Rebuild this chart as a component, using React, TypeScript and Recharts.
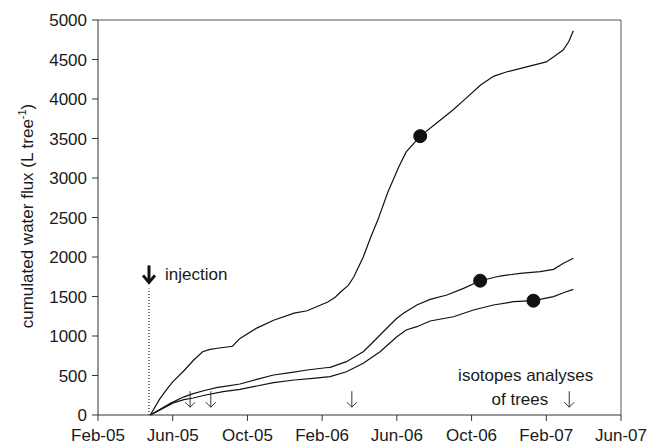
import React from 'react';
import { LineChart, Line, XAxis, YAxis, ReferenceLine, ReferenceDot } from 'recharts';

// x values are months counted from Feb-05
const tickMonths = [0, 4, 8, 12, 16, 20, 24, 28];
const tickLabels = ['Feb-05', 'Jun-05', 'Oct-05', 'Feb-06', 'Jun-06', 'Oct-06', 'Feb-07', 'Jun-07'];
const yTicks = [0, 500, 1000, 1500, 2000, 2500, 3000, 3500, 4000, 4500, 5000];

const topMonths = [2.8, 3.3, 3.7, 4.0, 4.6, 5.1, 5.6, 6.0, 6.4, 7.2, 7.6, 8.5, 9.4, 10.5, 11.2, 12.3, 12.7, 13.0, 13.4, 13.7, 14.2, 14.6, 15.0, 15.5, 16.1, 16.5, 17.25, 18.1, 19.0, 19.8, 20.5, 21.2, 21.9, 23.0, 24.0, 24.4, 24.9, 25.2, 25.45];
const topFlux = [0, 200, 330, 420, 560, 690, 800, 830, 845, 870, 970, 1100, 1200, 1290, 1320, 1430, 1490, 1560, 1640, 1750, 2000, 2250, 2480, 2810, 3140, 3330, 3530, 3690, 3860, 4030, 4180, 4290, 4345, 4410, 4470, 4535, 4620, 4725, 4865];

const midMonths = [2.8, 3.3, 3.9, 4.6, 5.1, 5.7, 6.4, 6.7, 7.6, 8.5, 9.4, 10.3, 11.2, 12.2, 12.43, 13.3, 13.7, 14.2, 14.65, 15.1, 15.55, 16.0, 16.35, 17.07, 17.78, 18.68, 19.57, 20.46, 21.53, 22.6, 23.67, 24.39, 24.92, 25.45];
const midFlux = [0, 70, 150, 230, 270, 310, 350, 360, 392, 451, 506, 536, 570, 598, 603, 675, 730, 800, 905, 1013, 1120, 1224, 1287, 1392, 1464, 1519, 1603, 1700, 1759, 1793, 1814, 1844, 1920, 1985];

const lowMonths = [2.8, 3.3, 4.0, 4.6, 5.1, 5.7, 6.7, 7.6, 8.5, 9.4, 10.5, 11.5, 12.43, 13.3, 14.2, 15.1, 16.0, 16.5, 17.07, 17.78, 19.03, 20.1, 21.17, 22.25, 23.31, 24.39, 24.92, 25.45];
const lowFlux = [0, 60, 150, 195, 215, 250, 295, 325, 367, 409, 443, 464, 485, 548, 654, 801, 991, 1076, 1118, 1190, 1244, 1329, 1392, 1434, 1447, 1498, 1548, 1590];

// filled circles on each curve
const markerMonths = [17.25, 20.46, 23.31];
const markerFlux = [3530, 1700, 1447];

// isotope analysis arrows
const analysisMonths = [4.93, 6.04, 13.59, 25.23];
const analysisLevel = 200;

const injectionMonth = 2.73;
const injectionTop = 1600;
const injectionArrow = 1780;

const toRows = (ms: number[], vs: number[]) => ms.map((m, i) => ({ m, v: vs[i] }));
const topData = toRows(topMonths, topFlux);
const midData = toRows(midMonths, midFlux);
const lowData = toRows(lowMonths, lowFlux);

const font = 'Arial, "Liberation Sans", Helvetica, sans-serif';
const ink = '#1a1a1a';

function YLabel() {
  return (
    <text
      x={0}
      y={0}
      transform="translate(33, 216) rotate(-90)"
      textAnchor="middle"
      fontFamily={font}
      fontSize={17}
      fill={ink}
    >
      cumulated water flux (L tree
      <tspan fontSize={11} dy={-7}>-1</tspan>
      <tspan dy={7}>)</tspan>
    </text>
  );
}

function ThinArrow(props: any) {
  const { cx, cy } = props;
  return (
    <path
      d={`M${cx},${cy - 8} L${cx},${cy + 8} M${cx - 5},${cy + 3} L${cx},${cy + 8} L${cx + 5},${cy + 3}`}
      stroke="#333"
      strokeWidth={1}
      fill="none"
    />
  );
}

function LastArrow(props: any) {
  const { cx, cy } = props;
  return (
    <g>
      <ThinArrow cx={cx} cy={cy} />
      <text x={cx + 24} y={cy - 24} textAnchor="end" dominantBaseline="central" fontFamily={font} fontSize={17} fill={ink}>
        isotopes analyses
      </text>
      <text x={cx - 21} y={cy} textAnchor="end" dominantBaseline="central" fontFamily={font} fontSize={17} fill={ink}>
        of trees
      </text>
    </g>
  );
}

function InjectionMark(props: any) {
  const { cx, cy } = props;
  return (
    <g>
      <path d={`M${cx},${cy - 9} L${cx},${cy + 6}`} stroke="#111" strokeWidth={3} />
      <path d={`M${cx - 6},${cy + 1} L${cx},${cy + 8} L${cx + 6},${cy + 1}`} stroke="#111" strokeWidth={3} fill="none" />
      <text x={cx + 16} y={cy} dominantBaseline="central" fontFamily={font} fontSize={17} fill={ink}>
        injection
      </text>
    </g>
  );
}

export default function App() {
  return (
    <div style={{ position: 'absolute', left: 0, top: 0, width: 662, height: 447, background: '#fff' }}>
      <LineChart width={662} height={447} margin={{ top: 20, right: 41, left: 0, bottom: 0 }}>
        <XAxis
          type="number"
          dataKey="m"
          domain={[0, 28]}
          ticks={tickMonths}
          interval={0}
          tickFormatter={(v) => tickLabels[tickMonths.indexOf(v)]}
          height={32}
          tickSize={6}
          tickMargin={8}
          stroke="#333"
          tick={{ fill: ink, fontSize: 17, fontFamily: font }}
          allowDataOverflow
        />
        <YAxis
          type="number"
          domain={[0, 5000]}
          ticks={yTicks}
          interval={0}
          width={98}
          tickSize={6}
          tickMargin={5}
          stroke="#333"
          tick={{ fill: ink, fontSize: 17, fontFamily: font }}
          label={<YLabel />}
        />
        <ReferenceLine y={5000} stroke="#555" strokeWidth={1} />
        <ReferenceLine x={28} stroke="#555" strokeWidth={1} />
        <ReferenceLine
          segment={[{ x: injectionMonth, y: 0 }, { x: injectionMonth, y: injectionTop }]}
          stroke="#222"
          strokeWidth={1.2}
          strokeDasharray="1 2"
        />
        <Line data={topData} dataKey="v" type="linear" stroke="#111" strokeWidth={1.2} dot={false} isAnimationActive={false} />
        <Line data={midData} dataKey="v" type="linear" stroke="#111" strokeWidth={1.2} dot={false} isAnimationActive={false} />
        <Line data={lowData} dataKey="v" type="linear" stroke="#111" strokeWidth={1.2} dot={false} isAnimationActive={false} />
        {markerMonths.map((m, i) => (
          <ReferenceDot key={`mk${i}`} x={m} y={markerFlux[i]} r={6.5} fill="#111" stroke="#111" />
        ))}
        {analysisMonths.map((m, i) => (
          <ReferenceDot
            key={`an${i}`}
            x={m}
            y={analysisLevel}
            r={0}
            shape={i === analysisMonths.length - 1 ? <LastArrow /> : <ThinArrow />}
          />
        ))}
        <ReferenceDot x={injectionMonth} y={injectionArrow} r={0} shape={<InjectionMark />} />
      </LineChart>
    </div>
  );
}
